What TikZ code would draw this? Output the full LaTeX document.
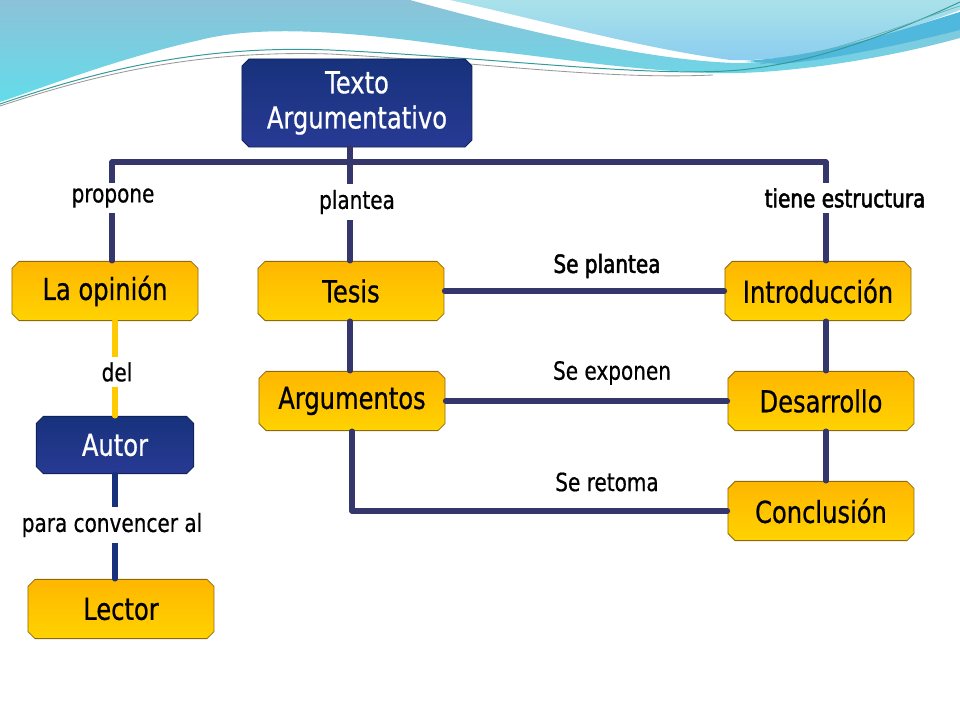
\documentclass[tikz,border=0pt]{standalone}
\usepackage{fontspec}
\setmainfont{DejaVu Sans}[FakeStretch=0.8,FakeBold=0.6]
\newfontfamily\heavyfont{DejaVu Sans}[FakeStretch=0.8,FakeBold=2]
\usepackage{tikz}
\usetikzlibrary{shapes.misc,calc}
\definecolor{navyline}{HTML}{35366C}
\definecolor{navytop}{HTML}{17327C}
\definecolor{navybot}{HTML}{283A94}
\definecolor{boxtop}{HTML}{FFB600}
\definecolor{boxbot}{HTML}{FFD300}
\definecolor{boxedge}{HTML}{8C6B10}
\definecolor{wavetop}{HTML}{8CC2D8}
\definecolor{wavebot}{HTML}{63DCEA}
\definecolor{paletop}{HTML}{AAE2EA}
\definecolor{palebot}{HTML}{8BCDEF}
\definecolor{waveband}{HTML}{50B8DC}
\tikzset{
	yellowbox/.style={
			chamfered rectangle, chamfered rectangle xsep=2.5pt, chamfered rectangle ysep=2.5pt,
			draw=boxedge, line width=0.6pt, top color=boxtop, bottom color=boxbot,
			minimum width=4.65cm, minimum height=1.48cm, inner sep=0pt,
			font=\fontsize{21.5}{24}\selectfont
		},
	navybox/.style={
			chamfered rectangle, chamfered rectangle xsep=2.5pt, chamfered rectangle ysep=2.5pt,
			draw=navytop!70!black, line width=0.6pt, top color=navytop, bottom color=navybot,
			text=white, inner sep=0pt, font=\fontsize{21.5}{25}\selectfont
		},
	link/.style={draw=navyline, line width=3.6pt, line cap=round, line join=round},
	linklabel/.style={fill=white, inner sep=4pt, font=\fontsize{17.8}{20}\selectfont},
	heavylabel/.style={inner sep=2pt, font=\heavyfont\fontsize{17.8}{20}\selectfont}
}

\begin{document}
\begin{tikzpicture}[x=0.025cm, y=-0.025cm]
    \useasboundingbox (0, 0) rectangle (960, 720);
    \fill[white] (0, 0) rectangle (960, 720);
    \shade[top color=wavetop, bottom color=wavebot]
        (0, 0) -- (410, 0) .. controls (500, 25) and (650, 62) .. (740, 63)
        .. controls (830, 60) and (900, 35) .. (960, 22) -- (960, 38)
        .. controls (880, 60) and (780, 75) .. (713, 73)
        .. controls (620, 70) and (540, 55) .. (480, 50)
        .. controls (380, 35) and (270, 22) .. (200, 40)
        .. controls (120, 58) and (50, 85) .. (0, 102) -- cycle;
    \shade[top color=paletop, bottom color=palebot]
        (450, 0) -- (960, 0) -- (960, 10) .. controls (880, 40) and (800, 62) .. (730, 60)
        .. controls (640, 48) and (540, 20) .. (450, 0) -- cycle;
    \fill[waveband] (745, 61) .. controls (830, 55) and (900, 30) .. (960, 12)
        -- (960, 30) .. controls (900, 45) and (830, 60) .. (780, 64) -- cycle;
    \draw[teal!80, line width=0.7pt] (0, 104) .. controls (100, 70) and (200, 45) .. (330, 50)
        .. controls (500, 58) and (650, 78) .. (740, 70) .. controls (820, 62) and (900, 30) .. (960, 2);
    \draw[gray!80, line width=0.6pt] (0, 106) .. controls (100, 73) and (200, 50) .. (330, 54)
        .. controls (480, 62) and (600, 80) .. (713, 75);
    \draw[teal!60, line width=0.5pt] (760, 64) .. controls (840, 52) and (910, 22) .. (960, 6);

    \node[navybox, minimum width=5.75cm, minimum height=2.2cm, align=center] (texto) at (357, 103) {Texto\\Argumentativo};
    \node[yellowbox] (opinion) at (105, 291) {La opinión};
    \node[yellowbox] (tesis) at (351, 291) {Tesis};
    \node[yellowbox] (intro) at (818, 291) {Introducción};
    \node[yellowbox] (argum) at (352, 401) {Argumentos};
    \node[yellowbox] (desarr) at (821, 401) {Desarrollo};
    \node[yellowbox] (concl) at (821, 511) {Conclusión};
    \node[navybox, minimum width=3.93cm, minimum height=1.43cm] (autor) at (115, 445) {Autor};
    \node[yellowbox] (lector) at (121, 609) {Lector};

    \coordinate (b1) at (112, 162);
    \coordinate (b2) at (350, 162);
    \coordinate (b3) at (826, 162);

    \draw[link] (b1) -- (b3);
    \draw[link] (b2 |- texto.south) -- (b2 |- tesis.north);
    \draw[link] (b1) -- (b1 |- opinion.north);
    \draw[link] (b3) -- (b3 |- intro.north);
    \draw[link] (b2 |- tesis.south) -- (b2 |- argum.north);
    \draw[link] (tesis.east) -- (intro.west);
    \draw[link] (argum.east) -- (desarr.west);
    \draw[link] (argum.south) |- (concl.west);
    \draw[link] (b3 |- intro.south) -- (b3 |- desarr.north);
    \draw[link] (b3 |- desarr.south) -- (b3 |- concl.north);
    \draw[link, draw=boxbot!90!orange] (autor.north |- opinion.south) -- (autor.north);
    \draw[link, draw=navytop] (autor.south) -- (autor.south |- lector.north);

    \node[linklabel] (propone) at (113, 198) {propone};
    \node[linklabel] (plantea) at (357, 202) {plantea};
    \node[linklabel, font=\heavyfont\fontsize{17.8}{20}\selectfont] (estructura) at (845, 198) {tiene estructura};
    \node[heavylabel] (seplantea) at (607, 266) {Se plantea};
    \node[linklabel, fill=none] (seexponen) at (612, 373) {Se exponen};
    \node[linklabel, fill=none] (seretoma) at (607, 482) {Se retoma};
    \node[linklabel] (del) at (117, 372) {del};
    \node[linklabel] (convencer) at (112, 525) {para convencer al};
\end{tikzpicture}
\end{document}
